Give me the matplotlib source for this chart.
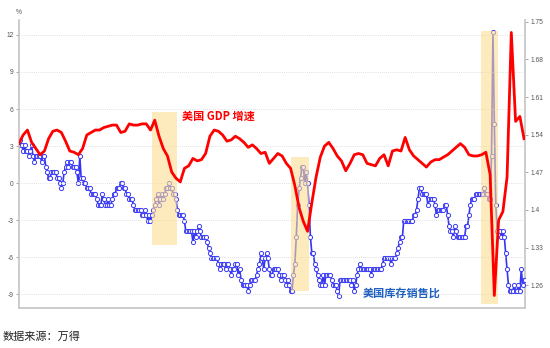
import matplotlib
matplotlib.use("Agg")
import matplotlib.pyplot as plt
import matplotlib.dates as mdates
from matplotlib.patches import Rectangle
import pandas as pd

plt.rcParams["font.family"] = ["Noto Sans CJK SC", "DejaVu Sans"]

# US total business inventories / sales ratio, monthly, Jun-1992 .. Mar-2022
ratio = [
    1.52, 1.53, 1.52, 1.51, 1.52, 1.51, 1.51,
    1.50, 1.51, 1.52, 1.50, 1.49, 1.50, 1.50, 1.50, 1.50, 1.49, 1.50, 1.50,
    1.48, 1.47, 1.46, 1.46, 1.47, 1.47, 1.47, 1.47, 1.46, 1.46, 1.45, 1.44,
    1.45, 1.47, 1.48, 1.49, 1.48, 1.49, 1.49, 1.48, 1.48, 1.48, 1.47, 1.45,
    1.50, 1.46, 1.46, 1.45, 1.45, 1.44, 1.44, 1.44, 1.43, 1.43, 1.43, 1.43,
    1.42, 1.41, 1.41, 1.41, 1.43, 1.42, 1.41, 1.41, 1.42, 1.41, 1.41, 1.42,
    1.43, 1.43, 1.44, 1.44, 1.44, 1.45, 1.45, 1.44, 1.44, 1.43, 1.43, 1.42,
    1.42, 1.42, 1.41, 1.40, 1.40, 1.40, 1.40, 1.40, 1.39, 1.39, 1.40, 1.39,
    1.38, 1.39, 1.38, 1.39, 1.40, 1.41, 1.42, 1.43, 1.41, 1.42, 1.43, 1.42,
    1.43, 1.44, 1.44, 1.45, 1.44, 1.44, 1.43, 1.43, 1.42, 1.40, 1.39, 1.39,
    1.39, 1.39, 1.38, 1.36, 1.36, 1.36, 1.36, 1.36, 1.34, 1.36, 1.35, 1.36,
    1.37, 1.36, 1.35, 1.35, 1.35, 1.35, 1.34, 1.33, 1.32, 1.31, 1.31, 1.31,
    1.31, 1.31, 1.30, 1.29, 1.30, 1.30, 1.30, 1.29, 1.30, 1.30, 1.29, 1.28,
    1.29, 1.29, 1.30, 1.30, 1.28, 1.29, 1.27, 1.26, 1.26, 1.26, 1.26, 1.25,
    1.26, 1.27, 1.27, 1.27, 1.27, 1.28, 1.29, 1.30, 1.32, 1.31, 1.29, 1.31,
    1.32, 1.31, 1.29, 1.28, 1.28, 1.29, 1.29, 1.29, 1.29, 1.28, 1.27, 1.28,
    1.28, 1.27, 1.26, 1.27, 1.26, 1.25, 1.25, 1.28, 1.30, 1.35, 1.41, 1.44,
    1.46, 1.48, 1.48, 1.45, 1.47, 1.45, 1.41, 1.35, 1.32, 1.32, 1.30, 1.29,
    1.28, 1.27, 1.26, 1.26, 1.28, 1.26, 1.28, 1.28, 1.28, 1.28, 1.27, 1.26,
    1.26, 1.26, 1.25, 1.24, 1.27, 1.27, 1.27, 1.27, 1.27, 1.27, 1.27, 1.27,
    1.26, 1.27, 1.25, 1.26, 1.28, 1.29, 1.30, 1.29, 1.29, 1.29, 1.29, 1.29,
    1.29, 1.29, 1.28, 1.29, 1.29, 1.29, 1.29, 1.29, 1.29, 1.29, 1.30, 1.31,
    1.31, 1.31, 1.31, 1.31, 1.30, 1.31, 1.31, 1.31, 1.32, 1.33, 1.34, 1.35,
    1.35, 1.38, 1.38, 1.38, 1.38, 1.38, 1.38, 1.38, 1.39, 1.39, 1.40, 1.42,
    1.44, 1.44, 1.43, 1.43, 1.43, 1.43, 1.41, 1.42, 1.42, 1.42, 1.42, 1.41,
    1.39, 1.40, 1.40, 1.40, 1.40, 1.40, 1.41, 1.41, 1.39, 1.37, 1.36, 1.36,
    1.35, 1.37, 1.36, 1.35, 1.35, 1.35, 1.35, 1.35, 1.35, 1.37, 1.37, 1.39,
    1.41, 1.42, 1.42, 1.42, 1.43, 1.43, 1.43, 1.43, 1.43, 1.43, 1.44, 1.43,
    1.43, 1.42, 1.42, 1.50, 1.73, 1.56, 1.41, 1.36, 1.36, 1.36, 1.35, 1.36,
    1.35, 1.32, 1.29, 1.26, 1.25, 1.25, 1.25, 1.26, 1.25, 1.25, 1.26, 1.25,
    1.29, 1.26, 1.27, 1.27,
]

# US real GDP growth, % y/y, quarterly, 1992-Q2 .. 2022-Q1
gdp = [
    3.2, 3.9, 4.3,
    3.3, 2.8, 2.3, 2.6,
    3.6, 4.2, 4.3, 4.1,
    3.4, 2.6, 2.5, 2.3,
    2.8, 3.9, 4.1, 4.3,
    4.3, 4.5, 4.6, 4.7,
    4.7, 4.1, 4.2, 4.8,
    4.7, 4.7, 4.8, 4.8,
    4.3, 5.1, 3.8, 2.8,
    2.2, 0.9, 0.4, 0.1,
    1.2, 1.4, 2.0, 1.8,
    1.9, 2.4, 3.8, 4.3,
    4.2, 3.9, 3.4, 3.5,
    3.8, 3.6, 3.3, 2.9,
    3.1, 2.8, 2.4, 2.5,
    1.6, 2.0, 2.4, 2.2,
    1.6, 1.2, -0.2, -2.0,
    -3.1, -3.9, -1.6, 0.5,
    2.1, 3.0, 3.3, 2.8,
    2.2, 1.8, 1.0, 1.6,
    2.3, 2.4, 2.3, 1.6,
    1.5, 1.4, 2.0, 2.3,
    1.4, 2.6, 2.7, 2.6,
    3.7, 2.7, 2.2, 1.9,
    1.6, 1.3, 1.7, 1.9,
    1.9, 2.1, 2.3, 2.6,
    2.9, 3.2, 2.9, 2.3,
    2.2, 2.2, 2.3, 2.5,
    0.7, -9.1, -3.0, -2.3,
    0.5, 12.2, 5.0, 5.4,
    3.6,
]

tick_dates = ["1992-06-30", "1997-12-31", "2002-12-31", "2007-12-31",
              "2012-12-31", "2017-12-31", "2022-03-31"]
tick_labels = ["92-Q2", "97-Q4", "02-Q4", "07-Q4", "12-Q4", "17-Q4", "22-Q1"]

# highlighted periods: start, end, bottom and top (in % units)
span_start = ["2000-04-27", "2008-07-09", "2019-09-09"]
span_end = ["2001-10-21", "2009-07-31", "2020-09-12"]
span_low = [-5.0, -8.7, -9.8]
span_high = [5.8, 2.15, 12.3]

months = pd.date_range("1992-06-30", periods=len(ratio), freq="ME")
quarters = pd.date_range("1992-06-30", periods=len(gdp), freq="QE")

fig = plt.figure(figsize=(5.5, 3.48), dpi=100)
ax = fig.add_axes([0.034, 0.115, 0.9205, 0.8275])
ax2 = ax.twinx()
ax.set_zorder(ax2.get_zorder() + 1)
ax.patch.set_visible(False)

grey = "#c4c4c4"
tick_col = "#555555"

ax2.plot(months, ratio, color="#3535f2", lw=1.2, marker="o", ms=3.0,
         mfc="white", mec="#3b3bf5", mew=0.7, zorder=3)

# shaded boxes sit above the ratio line but below the GDP line
for s, e, lo, hi in zip(span_start, span_end, span_low, span_high):
    x0 = mdates.date2num(pd.Timestamp(s))
    x1 = mdates.date2num(pd.Timestamp(e))
    ax.add_patch(Rectangle((x0, lo), x1 - x0, hi - lo, facecolor="#fcdc92",
                           edgecolor="none", alpha=0.6, zorder=1.5))

ax.plot(quarters, gdp, color="#ff0000", lw=2.0, zorder=3,
        solid_joinstyle="round")

xmin = mdates.date2num(pd.Timestamp("1992-06-26"))
xmax = mdates.date2num(pd.Timestamp("2022-04-20"))
ax.set_xlim(xmin, xmax)
ax2.set_xlim(xmin, xmax)
ax.set_ylim(-10.11, 13.21)
ax2.set_ylim(1.2178, 1.7532)

ax.set_yticks([12, 9, 6, 3, 0, -3, -6, -9])
ax.set_yticklabels(["12", "9", "6", "3", "0", "-3", "-6", "-9"])
ax2.set_yticks([1.75, 1.68, 1.61, 1.54, 1.47, 1.4, 1.33, 1.26])
ax2.set_yticklabels(["1.75", "1.68", "1.61", "1.54", "1.47", "1.4", "1.33", "1.26"])
ax.set_xticks([mdates.date2num(pd.Timestamp(d)) for d in tick_dates])
ax.set_xticklabels(tick_labels)
ax2.set_xticks([])

ax.yaxis.grid(True, color="#d8d8d8", ls=(0, (1, 1.5)), lw=0.6, zorder=0.5)
ax.set_axisbelow(True)

for a in (ax, ax2):
    a.spines["top"].set_visible(False)
ax.spines["right"].set_visible(False)
ax2.spines["left"].set_visible(False)
ax2.spines["bottom"].set_visible(False)
ax.spines["left"].set_color(grey)
ax.spines["left"].set_linewidth(1.2)
ax.spines["bottom"].set_color(grey)
ax.spines["bottom"].set_linewidth(1.2)
ax2.spines["right"].set_color(grey)
ax2.spines["right"].set_linewidth(1.2)

for lab in ax.get_xticklabels() + ax.get_yticklabels() + ax2.get_yticklabels():
    lab.set_fontfamily("Liberation Sans")
    lab.set_fontsize(4.8)
    lab.set_color(tick_col)
ax.tick_params(axis="both", length=2.5, width=0.6, color="#999999", pad=1.2)
ax2.tick_params(axis="y", length=2.5, width=0.6, color="#999999", pad=1.2)

fig.text(18.5 / 550, 1 - 13 / 348, "%", ha="center", va="center",
         fontsize=4.8, color=tick_col, family="Liberation Sans")

ax.text(0.3937, 0.664, "美国 GDP 增速", transform=ax.transAxes, ha="center",
        va="center", fontsize=8, fontweight="bold", color="#ff0000", zorder=6)
ax.text(0.7565, 0.053, "美国库存销售比", transform=ax.transAxes, ha="center",
        va="center", fontsize=8, fontweight="bold", color="#1f5fbf", zorder=6)

fig.text(3 / 550, 1 - 336.7 / 348, "数据来源：万得", ha="left", va="center",
         fontsize=8, color="#222222")

fig.savefig("out.png", dpi=100)
